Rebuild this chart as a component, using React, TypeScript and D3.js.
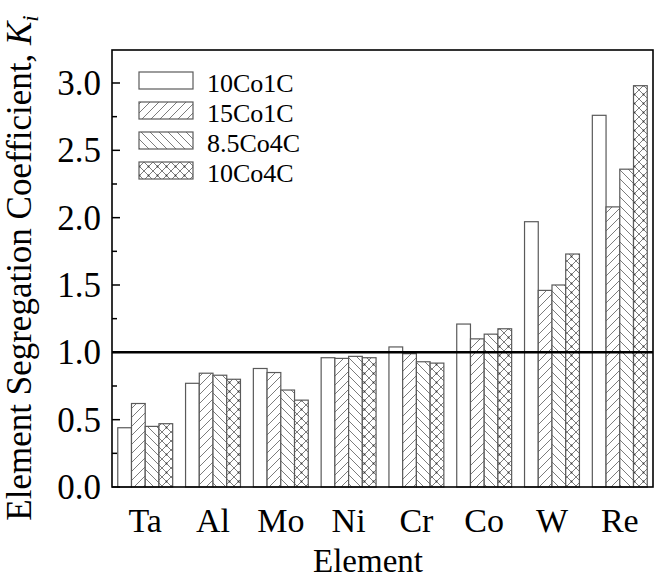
import React, { useEffect, useRef } from 'react';
import * as d3 from 'd3';

const elements = ['Ta', 'Al', 'Mo', 'Ni', 'Cr', 'Co', 'W', 'Re'];
const seriesNames = ['10Co1C', '15Co1C', '8.5Co4C', '10Co4C'];
const s10Co1C = [0.44, 0.77, 0.88, 0.96, 1.04, 1.21, 1.97, 2.76];
const s15Co1C = [0.62, 0.845, 0.85, 0.955, 0.99, 1.1, 1.46, 2.08];
const s85Co4C = [0.45, 0.83, 0.72, 0.97, 0.93, 1.135, 1.5, 2.36];
const s10Co4C = [0.47, 0.8, 0.645, 0.96, 0.92, 1.175, 1.73, 2.98];
const yTicks = [0, 0.5, 1.0, 1.5, 2.0, 2.5, 3.0];

const App = () => {
  const svgRef = useRef(null);

  useEffect(() => {
    const width = 657;
    const height = 581;
    const left = 112, right = 653, top = 50, bottom = 487;
    const font = '"Liberation Serif", "Times New Roman", serif';
    const edge = '#5a5a5a';

    const svg = d3.select(svgRef.current)
      .attr('width', width)
      .attr('height', height);
    svg.selectAll('*').remove();

    // hatch patterns
    const defs = svg.append('defs');
    const p = 9;
    const mk = (id, d) => {
      const pat = defs.append('pattern')
        .attr('id', id)
        .attr('patternUnits', 'userSpaceOnUse')
        .attr('width', p)
        .attr('height', p);
      pat.append('rect').attr('width', p).attr('height', p).attr('fill', 'white');
      pat.append('path').attr('d', d)
        .attr('stroke', edge).attr('stroke-width', 0.8).attr('fill', 'none');
      return pat;
    };
    mk('fwd', `M0,${p} L${p},0 M-2,2 L2,-2 M${p - 2},${p + 2} L${p + 2},${p - 2}`);
    mk('back', `M0,0 L${p},${p} M-2,${p - 2} L2,${p + 2} M${p - 2},-2 L${p + 2},2`);
    const cross = mk('cross', `M0,0 L${p},${p} M0,${p} L${p},0`);
    cross.append('circle').attr('cx', p / 2).attr('cy', p / 2).attr('r', 0.9).attr('fill', '#333');
    const fills = ['white', 'url(#fwd)', 'url(#back)', 'url(#cross)'];

    const x = d3.scaleBand().domain(elements).range([left, right])
      .paddingInner(0.19).paddingOuter(0.085);
    const xs = d3.scaleBand().domain(seriesNames).range([0, x.bandwidth()]);
    const y = d3.scaleLinear().domain([0, 3.245]).range([bottom, top]);

    const series = [s10Co1C, s15Co1C, s85Co4C, s10Co4C];
    series.forEach((vals, si) => {
      svg.append('g').selectAll('rect')
        .data(vals)
        .enter()
        .append('rect')
        .attr('x', (d, i) => x(elements[i]) + xs(seriesNames[si]))
        .attr('y', (d) => y(d))
        .attr('width', xs.bandwidth())
        .attr('height', (d) => y(0) - y(d))
        .attr('fill', fills[si])
        .attr('stroke', edge)
        .attr('stroke-width', 1.2);
    });

    // reference line at 1.0
    svg.append('line')
      .attr('x1', left).attr('x2', right)
      .attr('y1', y(1)).attr('y2', y(1))
      .attr('stroke', 'black').attr('stroke-width', 2.5);

    // frame
    svg.append('rect')
      .attr('x', left).attr('y', top)
      .attr('width', right - left).attr('height', bottom - top)
      .attr('fill', 'none').attr('stroke', 'black').attr('stroke-width', 1.6);

    // y ticks (inward)
    const minor = d3.range(0.25, 3.2, 0.5);
    svg.append('g').selectAll('line.minor')
      .data(minor).enter().append('line')
      .attr('x1', left).attr('x2', left + 5)
      .attr('y1', (d) => y(d)).attr('y2', (d) => y(d))
      .attr('stroke', 'black').attr('stroke-width', 1.5);
    svg.append('g').selectAll('line.major')
      .data(yTicks).enter().append('line')
      .attr('x1', left).attr('x2', left + 8)
      .attr('y1', (d) => y(d)).attr('y2', (d) => y(d))
      .attr('stroke', 'black').attr('stroke-width', 1.5);
    svg.append('g').selectAll('text')
      .data(yTicks).enter().append('text')
      .attr('x', 101)
      .attr('y', (d) => y(d) + 12)
      .attr('text-anchor', 'end')
      .attr('font-family', font)
      .attr('font-size', 35)
      .text((d) => d.toFixed(1));

    // x labels
    svg.append('g').selectAll('text')
      .data(elements).enter().append('text')
      .attr('x', (d) => x(d) + x.bandwidth() / 2)
      .attr('y', 532)
      .attr('text-anchor', 'middle')
      .attr('font-family', font)
      .attr('font-size', 34)
      .text((d) => d);

    svg.append('text')
      .attr('x', 368).attr('y', 572)
      .attr('text-anchor', 'middle')
      .attr('font-family', font)
      .attr('font-size', 33)
      .text('Element');

    // y label
    const yl = svg.append('text')
      .attr('transform', 'translate(31,268) rotate(-90)')
      .attr('text-anchor', 'middle')
      .attr('font-family', font)
      .attr('font-size', 35);
    yl.append('tspan').text('Element Segregation Coefficient, ');
    yl.append('tspan').attr('font-style', 'italic').text('K');
    yl.append('tspan').attr('font-style', 'italic').attr('font-size', 23).attr('dy', 7).text('i');

    // legend
    const lg = svg.append('g');
    seriesNames.forEach((name, i) => {
      const ty = 72 + i * 30;
      lg.append('rect')
        .attr('x', 139).attr('y', ty)
        .attr('width', 54).attr('height', 17)
        .attr('fill', fills[i]).attr('stroke', edge).attr('stroke-width', 1.2);
      lg.append('text')
        .attr('x', 207).attr('y', ty + 20)
        .attr('font-family', font)
        .attr('font-size', 26)
        .text(name);
    });
  }, []);

  return (
    <svg ref={svgRef} style={{ position: 'absolute', left: 0, top: 0 }}></svg>
  );
};

export default App;
